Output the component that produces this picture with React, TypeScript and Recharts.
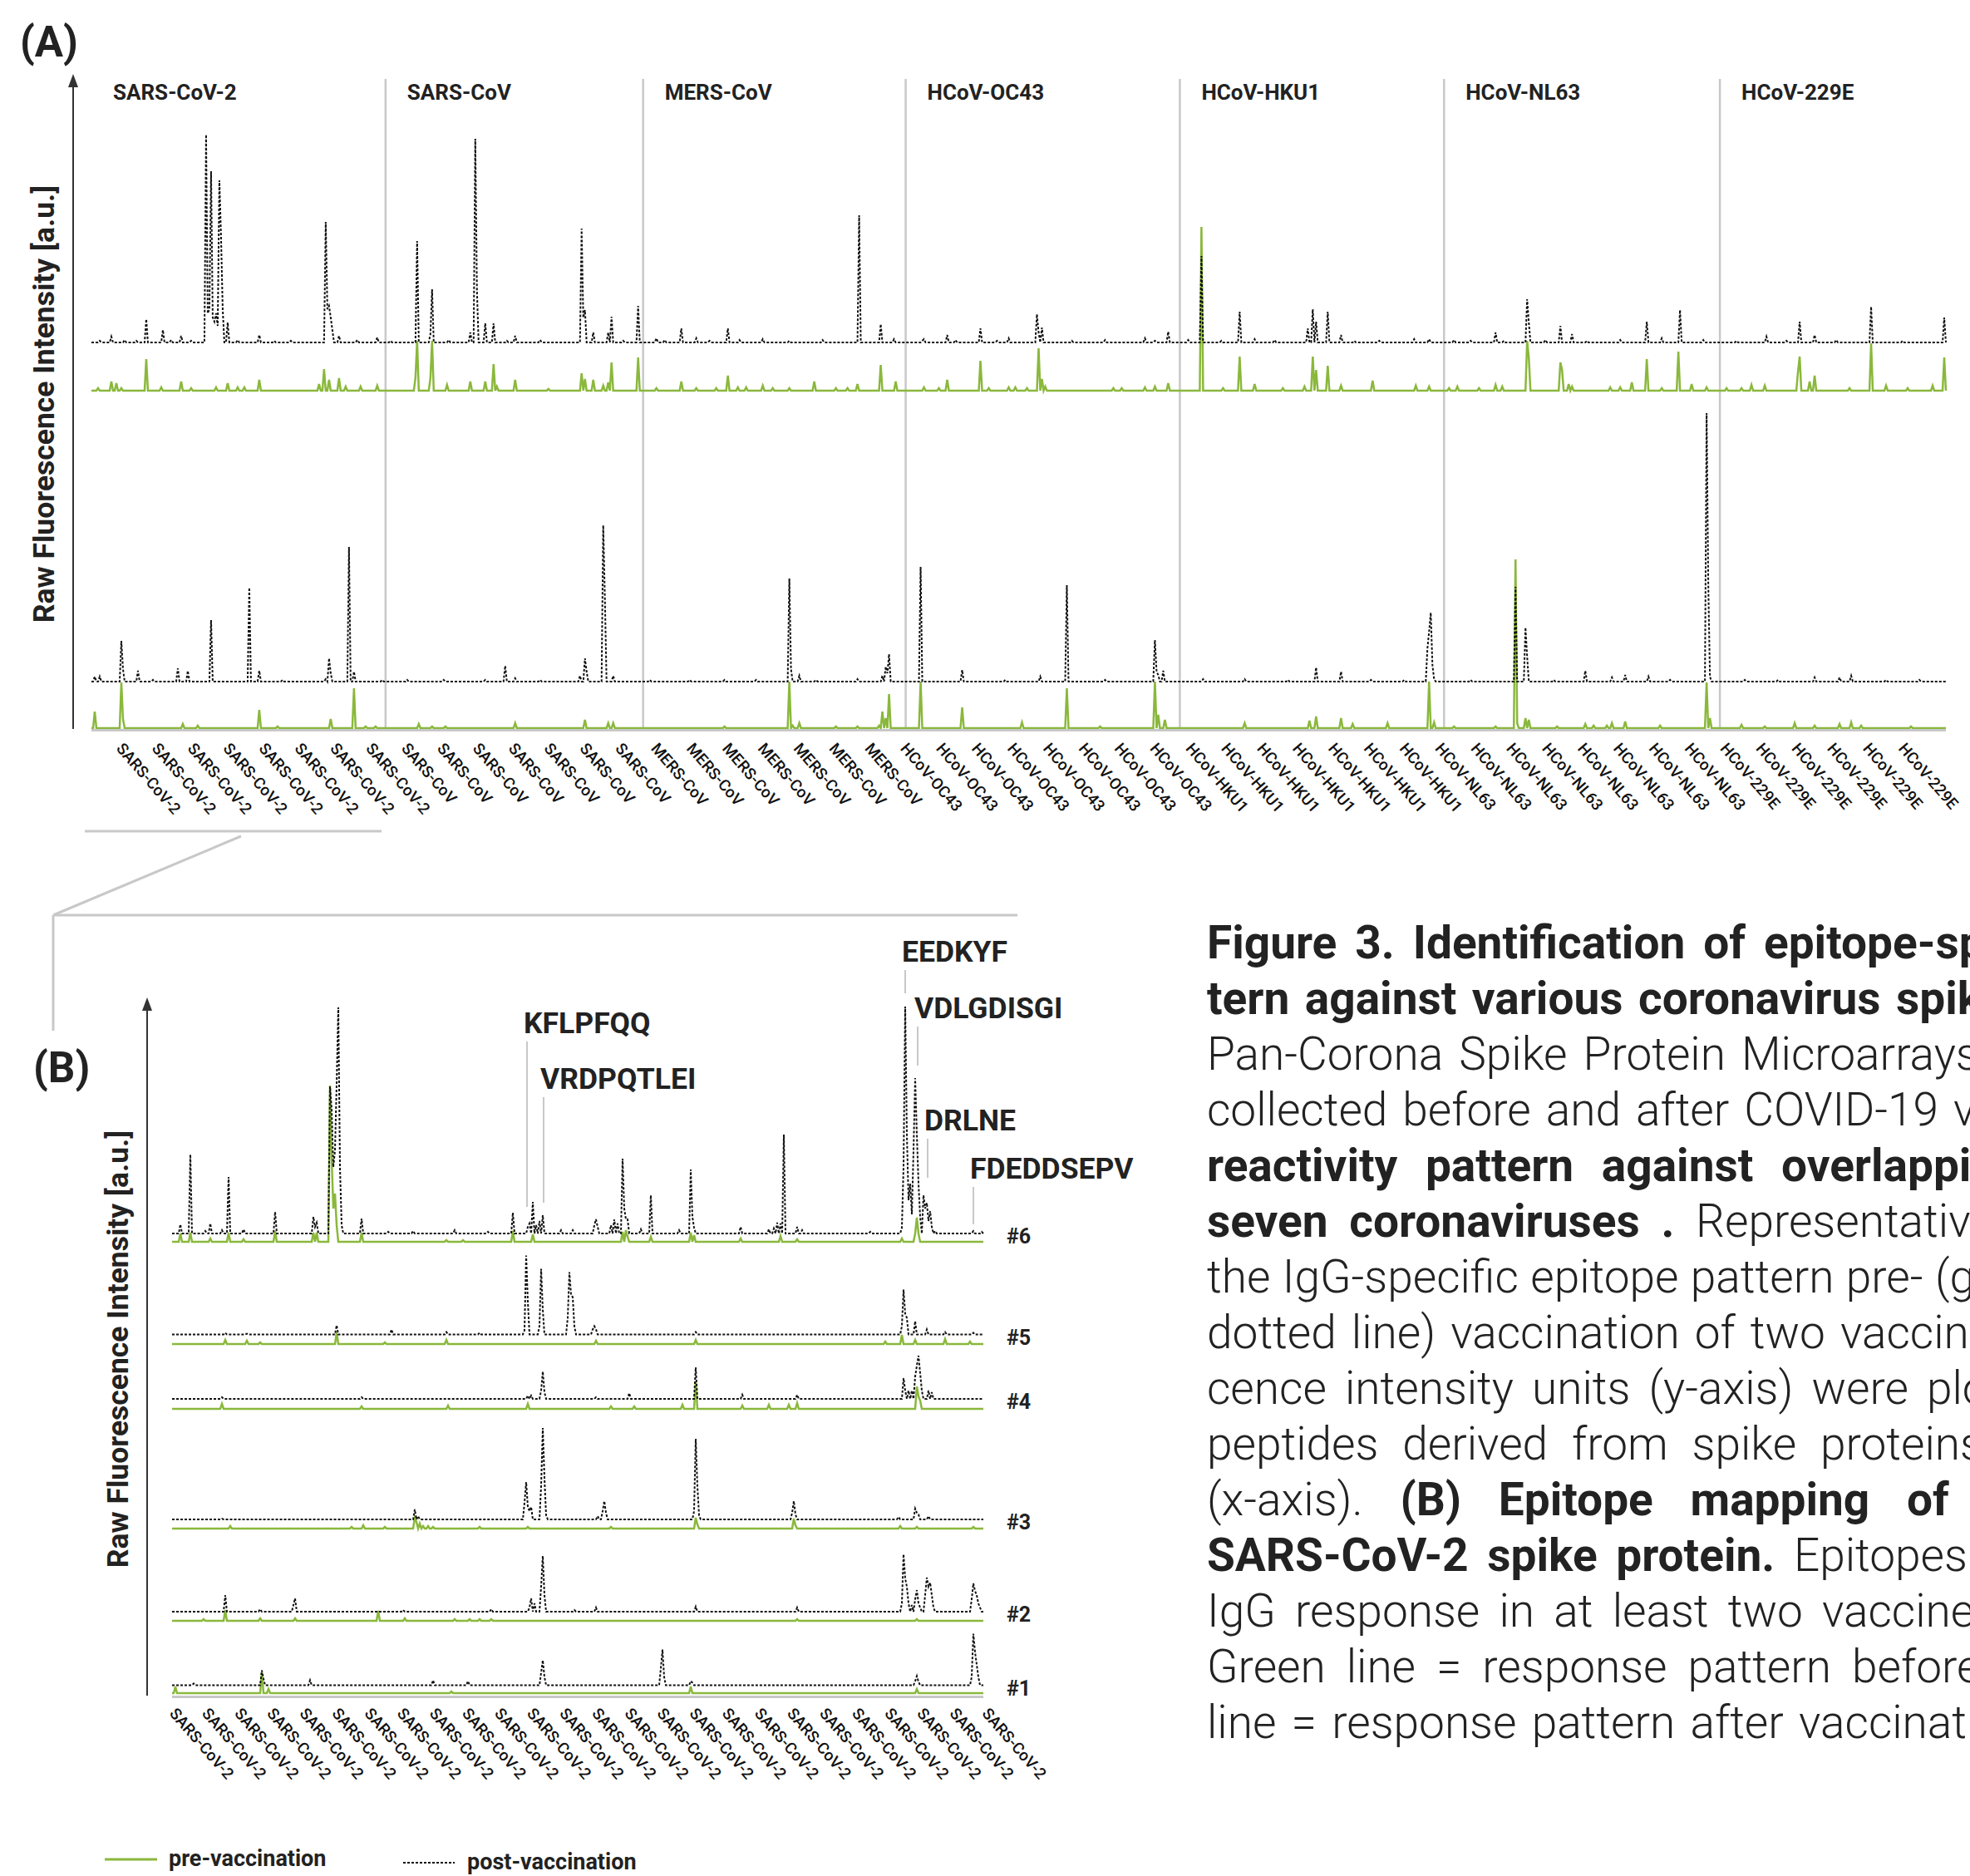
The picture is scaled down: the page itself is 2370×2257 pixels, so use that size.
import React from 'react';
import { LineChart, Line, XAxis, YAxis, ReferenceLine, ReferenceDot } from 'recharts';

type Peak = [number, number];

const FONT = 'Roboto, "Noto Sans", "DejaVu Sans", sans-serif';
const GREEN = '#8ab83c';
const BLACK = '#111111';
const GRAY = '#c8c8c8';
const TEXT = '#222222';

// ---------------- Panel A data ----------------
const VIRUSES = ['SARS-CoV-2', 'SARS-CoV', 'MERS-CoV', 'HCoV-OC43', 'HCoV-HKU1', 'HCoV-NL63', 'HCoV-229E'];
const PEPTIDES_PER_VIRUS = [177, 155, 158, 165, 159, 166, 137];
const TICKS_PER_VIRUS = [8, 7, 7, 8, 7, 8, 6];

// vaccinee 1 (upper pair) post-vaccination peaks [peptide index, intensity]
const A_V1_POST: Peak[] = [[5,2],[12,7],[20,3],[27,2],[33,28],[43,15],[48,3],[54,8],[60,2],[69,250],[70,35],[71,40],[72,206],[73,30],[74,25],[75,35],[76,20],[77,195],[78,127],[79,40],[82,24],[88,3],[101,9],[110,2],[120,2],[141,145],[142,40],[143,44],[144,30],[145,15],[149,8],[160,3],[172,6],[180,2],[196,122],[204,10],[205,64],[215,3],[228,12],[231,245],[232,62],[237,23],[242,23],[250,2],[255,8],[270,3],[295,137],[296,30],[297,39],[302,12],[311,12],[313,31],[320,2],[329,44],[340,5],[345,3],[355,17],[364,5],[372,2],[383,17],[390,3],[404,4],[420,2],[440,3],[462,153],[475,22],[483,4],[500,2],[501,4],[515,9],[520,3],[535,17],[545,2],[552,5],[569,34],[570,12],[572,18],[590,2],[610,3],[634,5],[640,2],[648,13],[660,3],[668,104],[680,2],[691,37],[700,4],[712,3],[732,17],[735,40],[737,25],[744,37],[752,9],[760,2],[775,2],[796,4],[805,4],[820,3],[830,2],[845,12],[850,2],[864,52],[865,24],[875,3],[884,20],[891,10],[900,2],[920,3],[936,25],[945,5],[956,39],[970,3],[990,2],[1008,7],[1020,2],[1028,25],[1037,9],[1050,3],[1071,43],[1090,2],[1115,30]];
// vaccinee 1 pre-vaccination
const A_V1_PRE: Peak[] = [[4,3],[12,11],[15,9],[18,3],[33,38],[42,4],[54,11],[60,3],[75,4],[82,9],[88,4],[92,4],[101,13],[137,8],[140,26],[143,13],[149,15],[153,5],[162,5],[172,6],[195,15],[196,60],[204,15],[205,60],[214,7],[228,11],[237,11],[242,32],[244,5],[255,13],[275,2],[295,21],[297,14],[302,13],[308,6],[311,10],[313,34],[329,40],[340,3],[355,11],[364,3],[376,3],[383,18],[389,4],[394,4],[404,6],[410,3],[420,3],[435,11],[448,3],[455,3],[461,8],[475,31],[484,11],[501,4],[510,3],[515,13],[535,36],[540,3],[552,4],[556,4],[563,3],[570,51],[572,14],[574,5],[615,3],[620,3],[634,4],[640,5],[648,9],[668,197],[681,3],[691,41],[700,8],[717,3],[730,5],[735,41],[737,25],[744,30],[752,6],[771,12],[797,6],[805,5],[817,3],[822,5],[835,3],[845,7],[849,5],[864,60],[865,40],[884,34],[885,25],[889,8],[891,5],[914,4],[920,4],[927,10],[936,38],[945,3],[955,47],[963,8],[972,4],[984,3],[993,3],[999,7],[1007,6],[1027,23],[1028,41],[1034,11],[1037,18],[1058,3],[1071,57],[1080,6],[1093,3],[1108,6],[1115,40]];
// vaccinee 2 (lower pair) post-vaccination
const A_V2_POST: Peak[] = [[2,6],[5,6],[18,49],[19,15],[28,13],[37,2],[52,16],[58,13],[72,74],[95,113],[101,13],[115,2],[141,3],[143,28],[144,10],[155,162],[158,12],[175,2],[190,2],[212,2],[237,2],[249,19],[255,4],[270,2],[294,7],[297,28],[298,12],[308,188],[309,100],[314,7],[336,2],[360,2],[381,2],[400,2],[420,124],[421,15],[426,7],[436,2],[461,3],[476,7],[478,18],[479,10],[480,33],[499,138],[524,14],[550,2],[571,6],[587,116],[610,2],[640,50],[641,12],[642,8],[645,13],[669,3],[694,3],[720,2],[737,17],[752,12],[770,2],[790,2],[804,40],[805,60],[806,83],[807,20],[808,3],[830,2],[857,114],[863,65],[864,30],[880,2],[899,13],[915,5],[923,8],[937,6],[950,2],[972,323],[973,118],[974,6],[995,2],[1015,2],[1037,5],[1052,5],[1059,7],[1080,2],[1100,2]];
// vaccinee 2 pre-vaccination
const A_V2_PRE: Peak[] = [[2,20],[18,55],[19,11],[55,5],[64,3],[101,22],[112,2],[144,11],[158,48],[165,2],[171,2],[197,5],[205,2],[213,2],[255,6],[297,10],[311,6],[314,6],[381,2],[420,56],[422,3],[426,6],[448,2],[461,2],[474,3],[476,20],[478,12],[480,41],[499,56],[524,25],[560,7],[587,48],[607,2],[640,56],[642,16],[646,10],[694,6],[733,9],[737,14],[752,12],[759,5],[780,6],[805,56],[808,7],[820,2],[845,2],[857,203],[858,6],[863,12],[865,10],[882,2],[899,5],[904,3],[912,3],[915,6],[923,8],[944,3],[972,55],[974,12],[993,4],[1007,2],[1025,6],[1037,3],[1052,5],[1059,7],[1065,3],[1095,2]];

// ---------------- Panel B data ----------------
const B_PEPTIDES = 489;
const B_TICK_LABEL = 'SARS-CoV-2';
const B_TICK_COUNT = 26;
const VACCINEES = ['#1', '#2', '#3', '#4', '#5', '#6'];
const B_POST: Peak[][] = [
  [[13,2],[54,18],[55,8],[83,6],[157,6],[178,5],[222,15],[223,30],[224,10],[294,20],[295,43],[296,10],[312,5],[313,3],[447,5],[448,11],[449,4],[481,10],[482,62],[483,40],[484,25],[485,10]],
  [[32,20],[53,3],[73,8],[74,16],[139,2],[192,3],[215,5],[216,16],[218,10],[222,30],[223,67],[224,20],[242,2],[255,5],[315,6],[376,5],[439,10],[440,69],[441,40],[442,30],[443,10],[445,8],[447,15],[448,26],[449,10],[450,5],[453,20],[454,41],[455,30],[456,35],[457,20],[458,5],[481,15],[482,34],[483,25],[484,20],[485,10],[486,5]],
  [[30,1],[146,12],[148,4],[212,20],[213,45],[214,15],[215,10],[216,15],[222,40],[223,110],[224,50],[225,5],[256,4],[259,10],[260,22],[261,8],[314,10],[315,97],[316,40],[317,5],[373,8],[374,22],[375,6],[437,3],[447,13],[448,8],[449,6],[455,4]],
  [[30,2],[114,2],[214,4],[216,4],[222,10],[223,33],[224,8],[255,2],[275,7],[315,38],[343,5],[376,5],[440,25],[441,10],[443,10],[445,10],[447,27],[448,40],[449,52],[450,31],[451,10],[455,10],[457,8]],
  [[32,2],[45,1],[99,11],[132,6],[165,3],[185,2],[212,5],[213,95],[214,40],[221,10],[222,79],[223,30],[238,20],[239,75],[240,48],[241,45],[242,10],[253,6],[254,10],[255,6],[315,3],[439,10],[440,54],[441,25],[442,20],[447,16],[454,6],[465,3],[482,2]],
  [[5,11],[11,95],[20,3],[23,12],[30,4],[34,68],[43,5],[62,26],[85,20],[86,8],[87,13],[95,177],[96,150],[97,80],[98,100],[99,180],[100,272],[101,80],[102,10],[114,18],[130,2],[145,3],[170,4],[190,2],[205,25],[214,8],[215,12],[217,38],[219,10],[221,15],[223,22],[234,4],[241,4],[254,10],[255,17],[256,8],[264,10],[266,17],[268,12],[271,90],[272,30],[273,17],[274,17],[282,5],[288,46],[305,4],[312,77],[313,20],[314,7],[342,8],[359,5],[362,6],[364,13],[366,12],[368,119],[376,8],[379,4],[420,2],[439,7],[440,80],[441,273],[442,120],[443,40],[444,60],[445,23],[446,100],[447,187],[448,120],[449,60],[450,20],[452,46],[453,30],[454,37],[455,15],[456,27],[457,8],[459,3],[482,3],[487,2]],
];
const B_PRE: Peak[][] = [
  [[2,8],[54,25],[58,5],[168,2],[312,8],[448,5]],
  [[19,2],[32,13],[53,3],[74,3],[124,12],[140,3],[170,2],[179,2],[185,2],[192,2],[376,2],[448,2]],
  [[35,3],[108,2],[115,4],[128,2],[146,13],[147,8],[149,6],[151,3],[154,3],[157,2],[185,2],[214,2],[264,2],[315,13],[316,5],[374,12],[375,4],[438,3],[448,2],[482,2]],
  [[30,6],[114,3],[166,4],[214,6],[264,3],[278,3],[307,5],[315,33],[343,4],[359,5],[371,5],[376,7],[448,27],[449,15],[450,10]],
  [[32,5],[45,4],[53,2],[99,14],[128,2],[165,5],[255,4],[315,5],[429,3],[439,11],[447,5],[465,6],[480,3]],
  [[5,10],[11,11],[23,4],[34,11],[43,3],[62,13],[85,11],[87,11],[95,188],[96,100],[97,40],[98,58],[99,20],[114,11],[165,2],[175,2],[205,13],[217,9],[271,12],[273,14],[274,6],[288,6],[312,11],[314,8],[342,4],[366,7],[376,3],[439,4],[447,10],[448,29],[449,10]],
];
const EPITOPE_NAMES = ['EEDKYF', 'VDLGDISGI', 'KFLPFQQ', 'VRDPQTLEI', 'DRLNE', 'FDEDDSEPV'];
const EPITOPE_POSITIONS = [441, 448.5, 213.5, 223.5, 454.5, 482];

// caption text (bold flags)
const CAPTION: [string, boolean][][] = [
  [['Figure 3. Identification of epitope-specific', true]],
  [['tern against various coronavirus spike', true]],
  [['Pan-Corona Spike Protein Microarrays', false]],
  [['collected before and after COVID-19 vaccination', false]],
  [['reactivity pattern against overlapping', true]],
  [['seven coronaviruses .', true], ['Representative', false]],
  [['the IgG-specific epitope pattern pre- (green', false]],
  [['dotted line) vaccination of two vaccinees', false]],
  [['cence intensity units (y-axis) were plotted', false]],
  [['peptides derived from spike proteins', false]],
  [['(x-axis).', false], ['(B) Epitope mapping of', true]],
  [['SARS-CoV-2 spike protein.', true], ['Epitopes', false]],
  [['IgG response in at least two vaccinees', false]],
  [['Green line = response pattern before', false]],
  [['line = response pattern after vaccination', false]],
];
// caption layout: x where the last word of each justified line starts
const CAPTION_LEFT = 1452;
const CAPTION_LAST_WORD_X = [2122, 2281, 2095, 2350, 2143, 2040, 2328, 2214, 2318, 2190, 2294, 2158, 2192, 2228, 2164];

// ---------------- layout (stacking offsets, not data) ----------------
const A_OFFSETS = { v1post: 465, v1pre: 407, v2post: 57, v2pre: 1 };
const A_YMAX = 782;
const B_OFFSETS_PRE = [3, 90, 201, 345, 423, 546];
const B_OFFSETS_POST = [12.5, 101, 212, 357, 434.5, 556];
const B_YMAX = 834;
const EPITOPE_LEADERS: [number, number][] = [[873, 845], [805, 758], [787, 588], [720, 593], [670, 623], [612, 567]];

function buildRows(n: number, traces: { key: string; base: number; peaks: Peak[] }[]) {
  const rows: Record<string, number>[] = [];
  for (let i = 0; i < n; i++) {
    const r: Record<string, number> = { i };
    traces.forEach((t) => { r[t.key] = t.base; });
    rows.push(r);
  }
  traces.forEach((t) =>
    t.peaks.forEach(([i, v]) => {
      if (i >= 0 && i < n) rows[i][t.key] = Math.max(rows[i][t.key], t.base + v);
    })
  );
  return rows;
}

const A_N = PEPTIDES_PER_VIRUS.reduce((a, b) => a + b, 0);
const A_STARTS = PEPTIDES_PER_VIRUS.map((_, k) => PEPTIDES_PER_VIRUS.slice(0, k).reduce((a, b) => a + b, 0));
const A_ROWS = buildRows(A_N, [
  { key: 'v1post', base: A_OFFSETS.v1post, peaks: A_V1_POST },
  { key: 'v1pre', base: A_OFFSETS.v1pre, peaks: A_V1_PRE },
  { key: 'v2post', base: A_OFFSETS.v2post, peaks: A_V2_POST },
  { key: 'v2pre', base: A_OFFSETS.v2pre, peaks: A_V2_PRE },
]);
const A_TICK_LABELS: string[] = VIRUSES.flatMap((v, k) => Array(TICKS_PER_VIRUS[k]).fill(v));
const A_TICKS = A_TICK_LABELS.map((_, k) => 14.5 + 21.45 * k);

const B_ROWS = buildRows(B_PEPTIDES, [
  ...B_PRE.map((p, k) => ({ key: `pre${k}`, base: B_OFFSETS_PRE[k], peaks: p })),
  ...B_POST.map((p, k) => ({ key: `post${k}`, base: B_OFFSETS_POST[k], peaks: p })),
]);
const B_TICK_LABELS: string[] = Array(B_TICK_COUNT).fill(B_TICK_LABEL);
const B_TICKS = B_TICK_LABELS.map((_, k) => -2 + 19.55 * k);

// ---------------- components ----------------
function makeTick(labels: string[], dy: number) {
  return function Tick(props: any) {
    const { x, y, index } = props;
    const ty = y + dy;
    return (
      <text x={x} y={ty} transform={`rotate(49, ${x}, ${ty})`} fontSize={19} fontWeight={500} fontFamily={FONT} fill={BLACK} textAnchor="start">
        {labels[index]}
      </text>
    );
  };
}

function SectionLabel(props: any) {
  const { viewBox, value } = props;
  return (
    <text x={viewBox.x + 26} y={viewBox.y + 25} fontSize={26} fontWeight={700} fontFamily={FONT} fill={TEXT}>
      {value}
    </text>
  );
}

function EpitopeLabel(props: any) {
  const { viewBox, value } = props;
  return (
    <text x={viewBox.x - 4} y={viewBox.y - 10} fontSize={35.5} fontWeight={700} fontFamily={FONT} fill={TEXT}>
      {value}
    </text>
  );
}

function YLabel(props: any) {
  const { viewBox, value } = props;
  const cx = viewBox.x + viewBox.width - 35;
  const cy = viewBox.y + viewBox.height / 2;
  return (
    <text x={cx} y={cy} transform={`rotate(-90, ${cx}, ${cy})`} textAnchor="middle" dominantBaseline="central" fontSize={35.5} fontWeight={700} fontFamily={FONT} fill={TEXT}>
      {value}
    </text>
  );
}

const Arrow = (p: any) => <path d={`M${p.cx},${p.cy - 6} L${p.cx - 6},${p.cy + 10} L${p.cx + 6},${p.cy + 10} Z`} fill="#333" />;

function PanelA() {
  return (
    <LineChart width={2370} height={1010} data={A_ROWS} margin={{ top: 95, right: 27, bottom: 10, left: 0 }}>
      <XAxis type="number" dataKey="i" domain={[-11, A_N]} ticks={A_TICKS} interval={0} tickLine={false} axisLine={false} tickSize={0} tickMargin={0} height={123} tick={makeTick(A_TICK_LABELS, 24)} allowDataOverflow />
      <YAxis type="number" domain={[0, A_YMAX]} width={88} tick={false} tickLine={false} axisLine={{ stroke: '#333', strokeWidth: 2 }} label={<YLabel value="Raw Fluorescence Intensity [a.u.]" />} allowDataOverflow />
      {A_STARTS.map((s, k) => (
        <ReferenceLine key={VIRUSES[k]} x={s} stroke={GRAY} strokeWidth={2.5} strokeOpacity={k === 0 ? 0 : 1} label={<SectionLabel value={VIRUSES[k]} />} />
      ))}
      <ReferenceLine segment={[{ x: 0, y: -1.5 }, { x: A_N - 1, y: -1.5 }]} stroke={GRAY} strokeWidth={3} ifOverflow="visible" />
      <Line type="linear" dataKey="v1pre" stroke={GREEN} strokeWidth={2.5} dot={false} isAnimationActive={false} />
      <Line type="linear" dataKey="v2pre" stroke={GREEN} strokeWidth={2.5} dot={false} isAnimationActive={false} />
      <Line type="linear" dataKey="v1post" stroke={BLACK} strokeWidth={2} strokeDasharray="3 2" dot={false} isAnimationActive={false} />
      <Line type="linear" dataKey="v2post" stroke={BLACK} strokeWidth={2} strokeDasharray="3 2" dot={false} isAnimationActive={false} />
      <ReferenceDot x={-11} y={A_YMAX} r={0} ifOverflow="visible" shape={Arrow} />
    </LineChart>
  );
}

function PanelB() {
  return (
    <LineChart width={1420} height={1157} data={B_ROWS} margin={{ top: 106, right: 235, bottom: 0, left: 0 }}>
      <XAxis type="number" dataKey="i" domain={[-15, B_PEPTIDES]} ticks={B_TICKS} interval={0} tickLine={false} axisLine={false} tickSize={0} tickMargin={0} height={217} tick={makeTick(B_TICK_LABELS, 22)} allowDataOverflow />
      <YAxis type="number" domain={[0, B_YMAX]} width={177} tick={false} tickLine={false} axisLine={{ stroke: '#333', strokeWidth: 2 }} label={<YLabel value="Raw Fluorescence Intensity [a.u.]" />} allowDataOverflow />
      <ReferenceLine segment={[{ x: 0, y: -1.5 }, { x: B_PEPTIDES - 1, y: -1.5 }]} stroke={GRAY} strokeWidth={3} ifOverflow="visible" />
      {EPITOPE_NAMES.map((n, k) => (
        <ReferenceLine key={n} segment={[{ x: EPITOPE_POSITIONS[k], y: EPITOPE_LEADERS[k][0] }, { x: EPITOPE_POSITIONS[k], y: EPITOPE_LEADERS[k][1] }]} stroke={GRAY} strokeWidth={2} ifOverflow="visible" label={<EpitopeLabel value={n} />} />
      ))}
      {B_PRE.map((_, k) => (
        <Line key={`pre${k}`} type="linear" dataKey={`pre${k}`} stroke={GREEN} strokeWidth={2.5} dot={false} isAnimationActive={false} />
      ))}
      {B_POST.map((_, k) => (
        <Line key={`post${k}`} type="linear" dataKey={`post${k}`} stroke={BLACK} strokeWidth={2} strokeDasharray="3 2" dot={false} isAnimationActive={false} />
      ))}
      {VACCINEES.map((v, k) => (
        <ReferenceDot key={v} x={B_PEPTIDES - 1} y={B_OFFSETS_POST[k]} r={0} ifOverflow="visible"
          shape={(p: any) => (
            <text x={p.cx + 28} y={p.cy + 12} fontSize={25} fontWeight={700} fontFamily={FONT} fill={TEXT}>{v}</text>
          )} />
      ))}
      <ReferenceDot x={-15} y={B_YMAX} r={0} ifOverflow="visible" shape={Arrow} />
    </LineChart>
  );
}

function Caption() {
  return (
    <>
      {CAPTION.map((line, k) => {
        const words = line.flatMap(([t, b]) => t.trim().split(/\s+/).map((w) => ({ w, b })));
        return (
          <div key={k} style={{ position: 'absolute', left: CAPTION_LEFT, top: 1101 + k * 67, width: CAPTION_LAST_WORD_X[k] - CAPTION_LEFT, height: 67, lineHeight: '67px', display: 'flex', justifyContent: 'space-between', whiteSpace: 'nowrap', fontSize: 55, color: TEXT }}>
            {words.map((wd, j) => (
              <span key={j} style={{ fontWeight: wd.b ? 700 : 300, flex: 'none', width: j === words.length - 1 ? 0 : undefined, overflow: 'visible' }}>{wd.w}</span>
            ))}
          </div>
        );
      })}
    </>
  );
}

export default function App() {
  return (
    <div style={{ position: 'absolute', left: 0, top: 0, width: 2370, height: 2257, overflow: 'hidden', background: '#fff', fontFamily: FONT }}>
      <div style={{ position: 'absolute', left: 0, top: 0 }}>
        <PanelA />
      </div>
      <div style={{ position: 'absolute', left: 0, top: 1100 }}>
        <PanelB />
      </div>
      <svg width={2370} height={2257} style={{ position: 'absolute', left: 0, top: 0, pointerEvents: 'none' }}>
        <text x={24} y={68} fontSize={51} fontWeight={700} fontFamily={FONT} fill={TEXT}>(A)</text>
        <text x={40} y={1302} fontSize={51} fontWeight={700} fontFamily={FONT} fill={TEXT}>(B)</text>
        <line x1={102} y1={1000} x2={459} y2={1000} stroke={GRAY} strokeWidth={3} />
        <line x1={290} y1={1006} x2={64} y2={1101} stroke={GRAY} strokeWidth={3} />
        <line x1={64} y1={1101} x2={1224} y2={1101} stroke={GRAY} strokeWidth={3} />
        <line x1={64} y1={1101} x2={64} y2={1240} stroke={GRAY} strokeWidth={3} />
        <line x1={126} y1={2237} x2={189} y2={2237} stroke={GREEN} strokeWidth={3} />
        <text x={203} y={2245} fontSize={27} fontWeight={700} fontFamily={FONT} fill={TEXT}>pre-vaccination</text>
        <line x1={485} y1={2241} x2={547} y2={2241} stroke={BLACK} strokeWidth={2} strokeDasharray="3 2" />
        <text x={562} y={2249} fontSize={27} fontWeight={700} fontFamily={FONT} fill={TEXT}>post-vaccination</text>
      </svg>
      <Caption />
    </div>
  );
}
